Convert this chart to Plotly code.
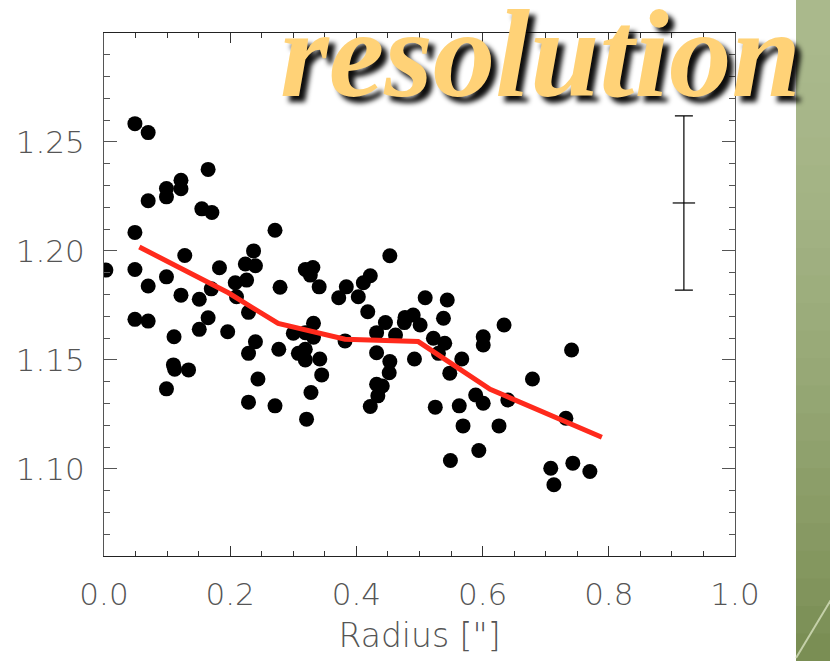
import plotly.graph_objects as go

# Individual measurements: radius (arcsec) and ratio
radius = [
    0.049, 0.070, 0.165, 0.122, 0.099, 0.122, 0.099, 0.070, 0.155, 0.171,
    0.049, 0.003, 0.049, 0.128, 0.183, 0.070, 0.099, 0.122, 0.151, 0.170,
    0.237, 0.224, 0.240, 0.226, 0.208, 0.210, 0.271, 0.279, 0.319, 0.331,
    0.327, 0.341, 0.453, 0.384, 0.372, 0.403, 0.411, 0.422, 0.509, 0.544,
    0.049, 0.070, 0.111, 0.151, 0.165, 0.196, 0.229, 0.240, 0.229, 0.110,
    0.112, 0.134, 0.099, 0.244, 0.229, 0.271, 0.418, 0.277, 0.300, 0.332,
    0.319, 0.332, 0.308, 0.319, 0.319, 0.342, 0.345, 0.328, 0.321, 0.382,
    0.432, 0.446, 0.432, 0.453, 0.452, 0.432, 0.441, 0.434, 0.422, 0.462,
    0.477, 0.490, 0.476, 0.501, 0.492, 0.522, 0.525, 0.538, 0.634, 0.601,
    0.601, 0.540, 0.530, 0.567, 0.548, 0.741, 0.679, 0.589, 0.601, 0.640,
    0.563, 0.569, 0.626, 0.732, 0.594, 0.549, 0.708, 0.713, 0.743, 0.770,
]
ratio = [
    1.2584, 1.2543, 1.2374, 1.2324, 1.2286, 1.2285, 1.2248, 1.2230, 1.2193, 1.2176,
    1.2085, 1.1912, 1.1915, 1.1979, 1.1923, 1.1839, 1.1881, 1.1797, 1.1778, 1.1826,
    1.2000, 1.1940, 1.1932, 1.1866, 1.1854, 1.1790, 1.2095, 1.1833, 1.1915, 1.1924,
    1.1889, 1.1835, 1.1978, 1.1835, 1.1785, 1.1790, 1.1854, 1.1886, 1.1785, 1.1775,
    1.1686, 1.1678, 1.1606, 1.1640, 1.1693, 1.1629, 1.1718, 1.1583, 1.1530, 1.1477,
    1.1457, 1.1454, 1.1367, 1.1412, 1.1306, 1.1289, 1.1721, 1.1549, 1.1622, 1.1668,
    1.1625, 1.1604, 1.1530, 1.1549, 1.1500, 1.1504, 1.1431, 1.1350, 1.1228, 1.1587,
    1.1625, 1.1671, 1.1533, 1.1492, 1.1441, 1.1388, 1.1380, 1.1335, 1.1286, 1.1614,
    1.1695, 1.1706, 1.1671, 1.1660, 1.1504, 1.1599, 1.1283, 1.1691, 1.1660, 1.1606,
    1.1568, 1.1576, 1.1530, 1.1504, 1.1439, 1.1545, 1.1412, 1.1339, 1.1301, 1.1316,
    1.1289, 1.1197, 1.1197, 1.1232, 1.1084, 1.1038, 1.1003, 1.0927, 1.1026, 1.0988,
]

# Running trend through the points
trend_radius = [0.056, 0.197, 0.276, 0.382, 0.498, 0.612, 0.789]
trend_ratio = [1.2018, 1.1808, 1.1667, 1.1595, 1.1584, 1.1365, 1.1145]

# Typical uncertainty of a single measurement
err_radius = [0.919]
err_center = [1.222]
err_size = [0.040]

x_ticks = [0.0, 0.2, 0.4, 0.6, 0.8, 1.0]
x_labels = ["0.0", "0.2", "0.4", "0.6", "0.8", "1.0"]
y_ticks = [1.10, 1.15, 1.20, 1.25]
y_labels = ["1.10", "1.15", "1.20", "1.25"]

W, H = 830, 661
ML, MR, MT, MB = 104, 95, 33, 105
pw, ph = W - ML - MR, H - MT - MB


def px_to_paper_x(px):
    return (px - ML) / pw


def px_to_paper_y(py):
    return (H - MB - py) / ph


fig = go.Figure()

fig.add_trace(go.Scatter(
    x=radius, y=ratio, mode="markers",
    marker=dict(size=15, color="black", line=dict(width=0)),
    showlegend=False, hoverinfo="skip",
))

fig.add_trace(go.Scatter(
    x=trend_radius, y=trend_ratio, mode="lines",
    line=dict(color="#ff2a1c", width=5),
    showlegend=False, hoverinfo="skip",
))

fig.add_trace(go.Scatter(
    x=err_radius, y=err_center, mode="markers",
    marker=dict(symbol="line-ew", size=16, line=dict(width=1.2, color="black")),
    error_y=dict(type="data", array=err_size, visible=True,
                 color="black", thickness=1.2, width=9),
    showlegend=False, hoverinfo="skip",
))

tick_font = dict(family="DejaVu Sans", size=31, color="#555555", weight=200)

fig.update_xaxes(
    range=[0, 1.0], tickvals=x_ticks, ticktext=x_labels,
    ticks="inside", ticklen=10, tickwidth=1, tickcolor="#333333",
    minor=dict(ticks="inside", ticklen=5, dtick=0.05, tickwidth=1, tickcolor="#333333"),
    mirror="allticks", showline=True, linecolor="#222222", linewidth=1,
    showgrid=False, zeroline=False, tickfont=tick_font,
    ticklabelstandoff=11,
    title=dict(text='Radius ["]', font=dict(family="DejaVu Sans", size=33,
                                            color="#555555", weight=200),
               standoff=12),
)
fig.update_yaxes(
    range=[1.06, 1.30], tickvals=y_ticks, ticktext=y_labels,
    ticks="inside", ticklen=13, tickwidth=1, tickcolor="#555555",
    minor=dict(ticks="inside", ticklen=6, dtick=0.01, tickwidth=1, tickcolor="#555555"),
    mirror="allticks", showline=True, linecolor="#555555", linewidth=1,
    showgrid=False, zeroline=False, tickfont=tick_font,
    ticklabelstandoff=12,
)

# Decorative green band along the right edge
top_rgb = (170, 185, 140)
bot_rgb = (122, 142, 84)
n_bands = 24
band_x0 = px_to_paper_x(796)
band_x1 = px_to_paper_x(832)
for i in range(n_bands):
    t = i / (n_bands - 1)
    t = t ** 1.6
    c = tuple(round(a + (b - a) * t) for a, b in zip(top_rgb, bot_rgb))
    y_top = H * i / n_bands
    y_bot = H * (i + 1) / n_bands + 1
    fig.add_shape(type="rect", xref="paper", yref="paper",
                  x0=band_x0, x1=band_x1,
                  y0=px_to_paper_y(y_bot), y1=px_to_paper_y(y_top),
                  fillcolor="rgb(%d,%d,%d)" % c, line=dict(width=0), layer="below")
fig.add_shape(type="line", xref="paper", yref="paper",
              x0=px_to_paper_x(832), y0=px_to_paper_y(598),
              x1=px_to_paper_x(796), y1=px_to_paper_y(658),
              line=dict(color="rgba(215,225,190,0.8)", width=2), layer="below")

fig.add_annotation(
    text="resolution", xref="paper", yref="paper",
    x=px_to_paper_x(278), y=px_to_paper_y(95),
    xanchor="left", yanchor="bottom", showarrow=False,
    font=dict(family="Liberation Serif", size=125, color="#ffd277",
              weight="bold", style="italic",
              shadow="6px 6px 5px rgba(0,0,0,0.95)"),
    yshift=-30,
)

fig.update_layout(
    width=W, height=H,
    margin=dict(l=ML, r=MR, t=MT, b=MB),
    paper_bgcolor="white", plot_bgcolor="white",
)

fig.write_html("out.html")
